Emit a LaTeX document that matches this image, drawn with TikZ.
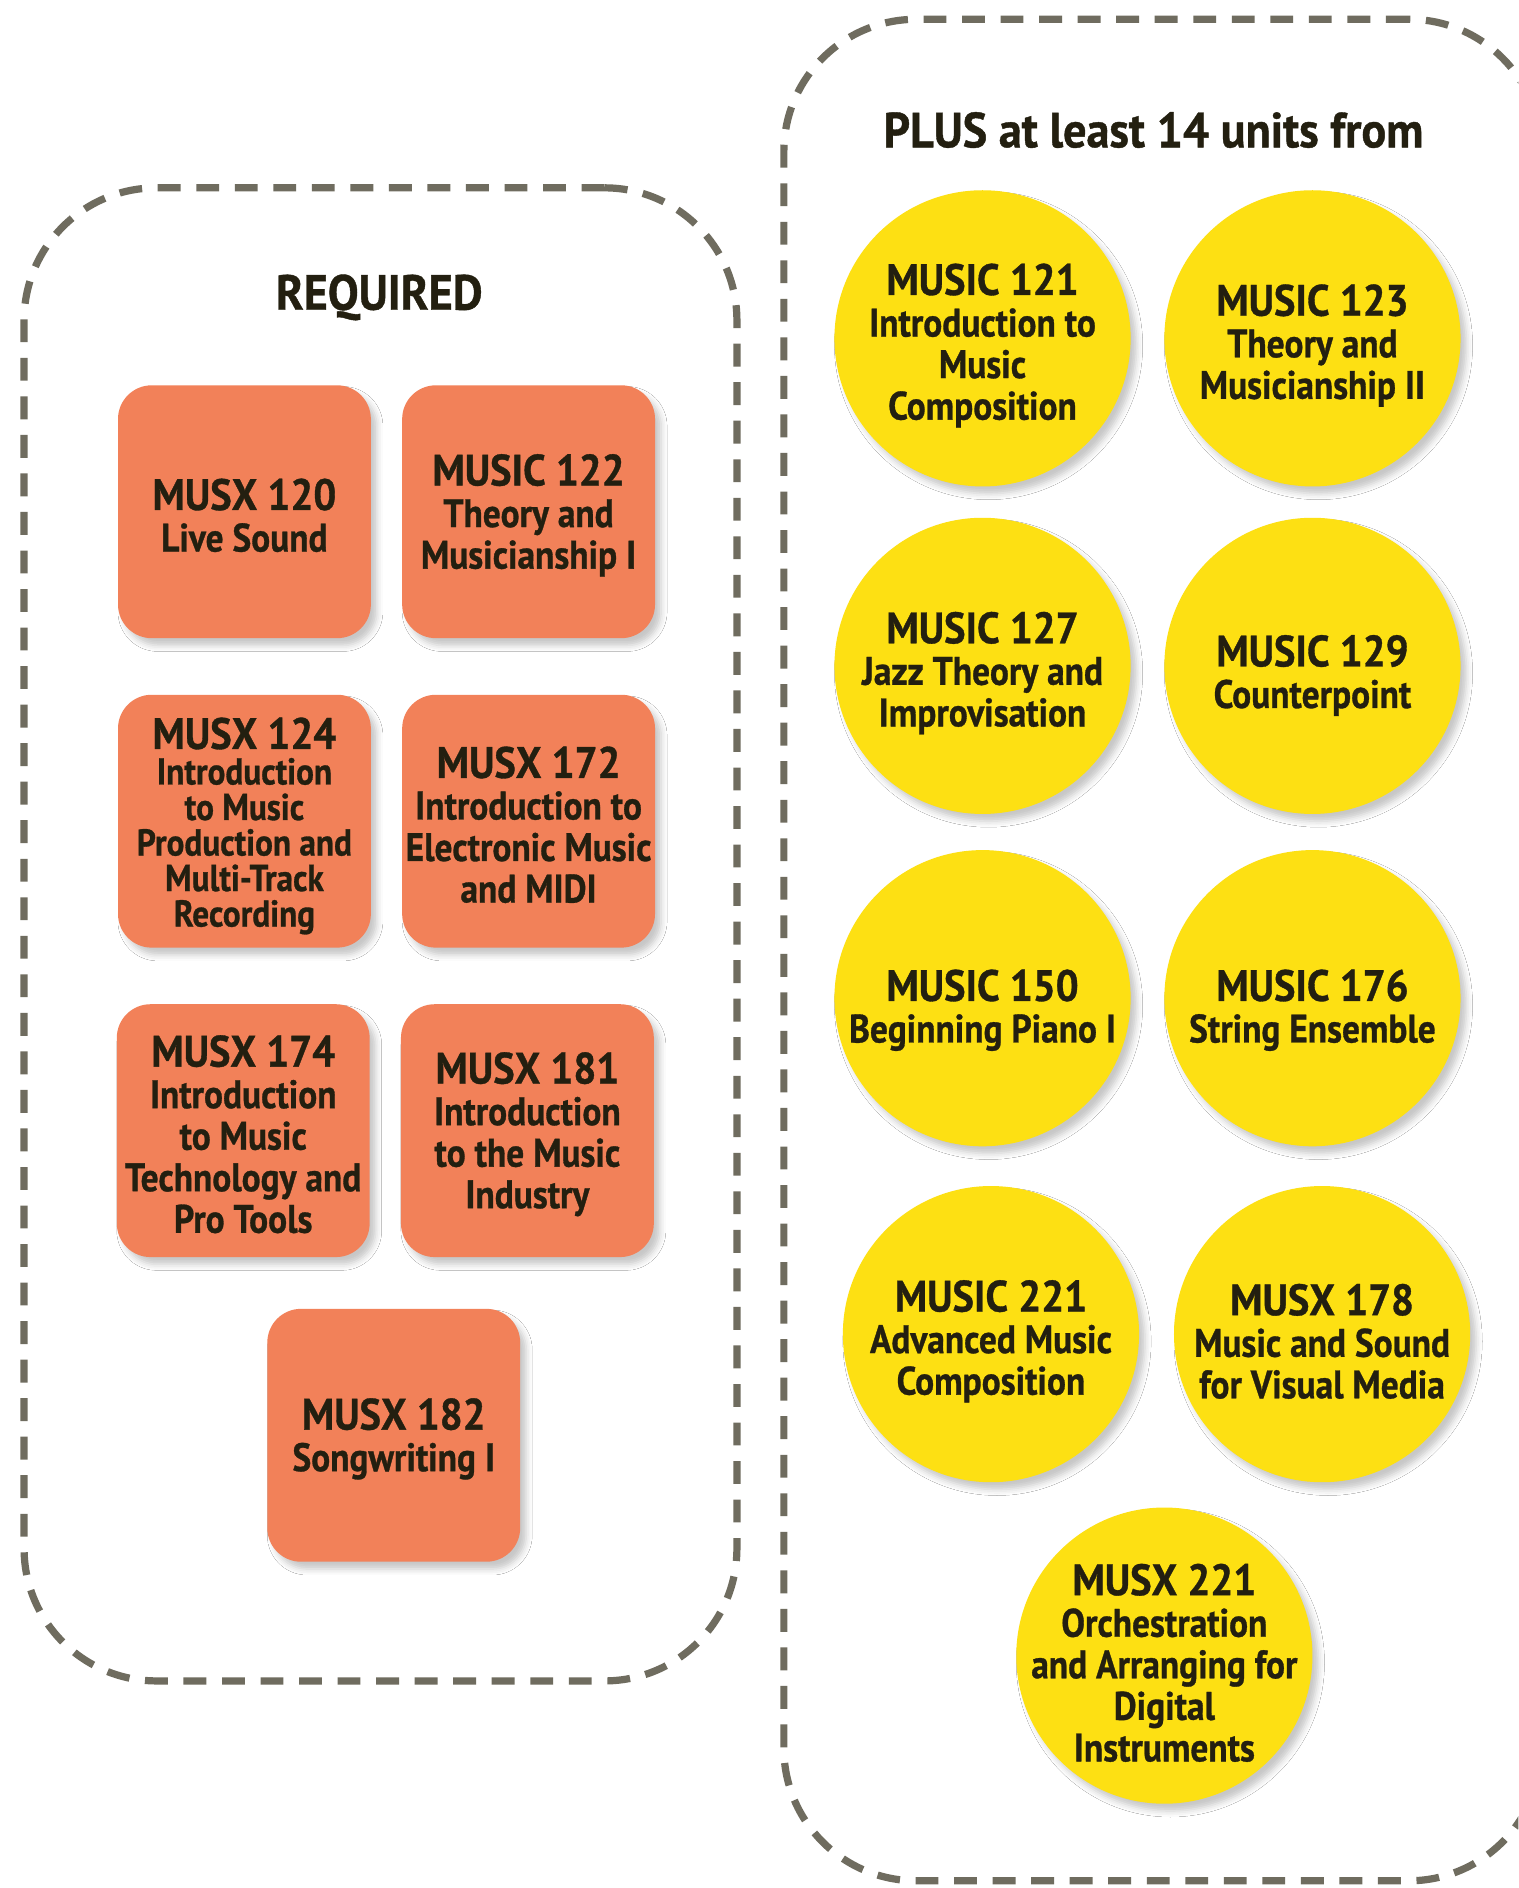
\documentclass[tikz,border=0pt]{standalone}
\usepackage{fontspec}
\setmainfont{PT Sans}[FakeStretch=0.89, BoldFeatures={FakeBold=0.8}]
\newfontfamily\codefont{PT Sans}[FakeStretch=0.92, BoldFeatures={FakeBold=0.8}]
\newfontfamily\headfont{PT Sans}[FakeStretch=0.935, BoldFeatures={FakeBold=0.8}]
\usetikzlibrary{shadows.blur}
\definecolor{dashgray}{HTML}{6F6C5F}
\definecolor{boxorange}{HTML}{F28159}
\definecolor{circyellow}{HTML}{FDE013}
\definecolor{inkdark}{HTML}{231F10}
\newcommand{\codesz}{\codefont\fontsize{36.5}{35}\selectfont\bfseries}
\newcommand{\descsz}{\fontsize{33}{34.5}\selectfont\bfseries}
\tikzset{
  groupbox/.style={draw=dashgray, line width=6pt, dash pattern=on 19pt off 13pt, rounded corners=110pt, inner sep=0pt},
  titletext/.style={text=inkdark, font=\headfont\fontsize{41}{41}\selectfont\bfseries, inner sep=0pt},
  softshadow/.style={blur shadow={shadow xshift=5pt, shadow yshift=-6pt, shadow blur radius=5pt, shadow opacity=22}},
  coursetext/.style={text=inkdark, align=center, font=\descsz, inner sep=0pt, yshift=-3pt},
  electivetext/.style={text=inkdark, align=center, font=\descsz, inner sep=0pt, yshift=-6pt},
  course/.style={rectangle, fill=boxorange, rounded corners=28pt, minimum width=210pt, minimum height=210pt, inner sep=0pt, softshadow},
  elective/.style={circle, fill=circyellow, minimum size=246pt, inner sep=0pt, softshadow},
}
\begin{document}
\begin{tikzpicture}[x=1pt,y=-1pt]
\useasboundingbox (0,0) rectangle (1261,1568);
\fill[white] (0,0) rectangle (1261,1568);
\clip (0,0) rectangle (1261,1568);
% group containers
\node[groupbox, minimum width=592pt, minimum height=1240pt] (req) at (316,776) {};
\node[groupbox, minimum width=629pt, minimum height=1546pt] (plus) at (965.5,789) {};
\node[titletext] (reqtitle) at (315,247) {REQUIRED};
\node[titletext] (plustitle) at (958,108) {PLUS at least 14 units from};
% required courses
\node[course, label={[coursetext]center:{{\codesz MUSX 120}\\Live Sound}}] (m120) at (203,425) {};
\node[course, label={[coursetext]center:{{\codesz MUSIC 122}\\Theory and\\Musicianship I}}] (m122) at (439,425) {};
\node[course, label={[coursetext, font=\fontsize{31}{29.5}\selectfont\bfseries, yshift=-1pt]center:{{\codesz MUSX 124}\\Introduction\\to Music\\Production and\\Multi-Track\\Recording}}] (m124) at (203,682) {};
\node[course, label={[coursetext]center:{{\codesz MUSX 172}\\Introduction to\\Electronic Music\\and MIDI}}] (m172) at (439,682) {};
\node[course, label={[coursetext]center:{{\codesz MUSX 174}\\Introduction\\to Music\\Technology and\\Pro Tools}}] (m174) at (202,939) {};
\node[course, label={[coursetext]center:{{\codesz MUSX 181}\\Introduction\\to the Music\\Industry}}] (m181) at (438,939) {};
\node[course, label={[coursetext]center:{{\codesz MUSX 182}\\Songwriting I}}] (m182) at (327,1192) {};
% electives
\node[elective, label={[electivetext]center:{{\codesz MUSIC 121}\\Introduction to\\Music\\Composition}}] (c121) at (816,281) {};
\node[elective, label={[electivetext]center:{{\codesz MUSIC 123}\\Theory and\\Musicianship II}}] (c123) at (1090,281) {};
\node[elective, label={[electivetext]center:{{\codesz MUSIC 127}\\Jazz Theory and\\Improvisation}}] (c127) at (816,553) {};
\node[elective, label={[electivetext, yshift=-2pt]center:{{\codesz MUSIC 129}\\Counterpoint}}] (c129) at (1090,553) {};
\node[elective, label={[electivetext, yshift=-4pt]center:{{\codesz MUSIC 150}\\Beginning Piano I}}] (c150) at (816,829) {};
\node[elective, label={[electivetext, yshift=-4pt]center:{{\codesz MUSIC 176}\\String Ensemble}}] (c176) at (1090,829) {};
\node[elective, label={[electivetext]center:{{\codesz MUSIC 221}\\Advanced Music\\Composition}}] (c221) at (823,1108) {};
\node[elective, label={[electivetext]center:{{\codesz MUSX 178}\\Music and Sound\\for Visual Media}}] (x178) at (1098,1108) {};
\node[elective, label={[electivetext]center:{{\codesz MUSX 221}\\Orchestration\\and Arranging for\\Digital\\Instruments}}] (x221) at (967,1375) {};
\end{tikzpicture}
\end{document}
